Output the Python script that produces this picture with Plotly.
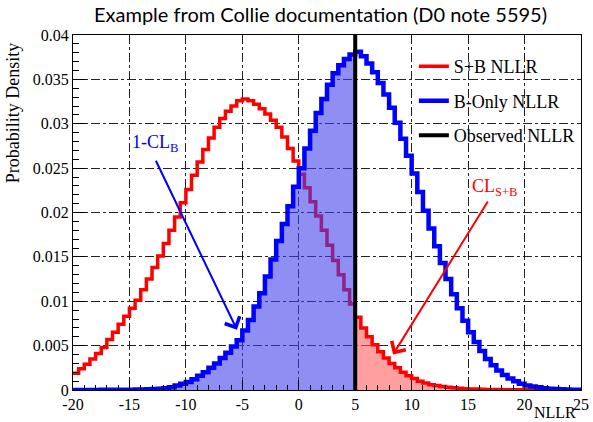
import numpy as np
import plotly.graph_objects as go

# ---- data (histograms, bin width 0.5 from -20 to 25) ----
bin_start = -20.0
bin_width = 0.5
n_bins = 90

sb_nllr = [
    0.0019, 0.0024, 0.0029, 0.0035, 0.0041, 0.0048, 0.0057, 0.0065, 0.0074, 0.0083,
    0.0092, 0.0101, 0.0113, 0.0125, 0.0138, 0.0151, 0.0165, 0.0180, 0.0195, 0.0211,
    0.0226, 0.0242, 0.0257, 0.0271, 0.0284, 0.0296, 0.0306, 0.0314, 0.0320, 0.0326,
    0.0328, 0.0326, 0.0322, 0.0317, 0.0311, 0.0304, 0.0296, 0.0285, 0.0272, 0.0258,
    0.0243, 0.0228, 0.0212, 0.0196, 0.0180, 0.0163, 0.0146, 0.0130, 0.0113, 0.0097,
    0.0082, 0.0070, 0.0060, 0.0051, 0.0043, 0.0036, 0.0030, 0.0025, 0.0020, 0.0016,
    0.0013, 0.0010, 0.0008, 0.0006, 0.0005, 0.0004, 0.0003, 0.00025, 0.0002, 0.00015,
    0.00012, 0.0001, 0.00008, 0.00007, 0.00006, 0.00005, 0.00004, 0.00004, 0.00003, 0.00003,
    0.00002, 0.00002, 0.00002, 0.00001, 0.00001, 0.00001, 0.00001, 0.00001, 0.00001, 0.00001,
]

b_nllr = [
    0.00001, 0.00001, 0.00001, 0.00001, 0.00001, 0.00002, 0.00002, 0.00002, 0.00003, 0.00003,
    0.00004, 0.00005, 0.00006, 0.00008, 0.0001, 0.00015, 0.0002, 0.0003, 0.0005, 0.0007,
    0.0009, 0.0012, 0.0016, 0.0020, 0.0025, 0.0030, 0.0036, 0.0042, 0.0049, 0.0056,
    0.0067, 0.0079, 0.0094, 0.0109, 0.0128, 0.0147, 0.0168, 0.0187, 0.0207, 0.0229,
    0.0250, 0.0272, 0.0292, 0.0312, 0.0328, 0.0344, 0.0357, 0.0366, 0.0373, 0.0378,
    0.0381, 0.0376, 0.0368, 0.0358, 0.0346, 0.0333, 0.0318, 0.0301, 0.0283, 0.0264,
    0.0244, 0.0223, 0.0202, 0.0182, 0.0162, 0.0143, 0.0125, 0.0108, 0.0092, 0.0078,
    0.0065, 0.0054, 0.0044, 0.0035, 0.0028, 0.0022, 0.0017, 0.0013, 0.0010, 0.0007,
    0.0005, 0.0004, 0.0003, 0.0002, 0.00015, 0.0001, 0.00008, 0.00006, 0.00004, 0.00003,
]

observed_nllr = 5.0

x_range = [-20, 25]
y_range = [0, 0.04]
x_tickvals = [-20, -15, -10, -5, 0, 5, 10, 15, 20, 25]
x_ticktext = ["-20", "-15", "-10", "-5", "0", "5", "10", "15", "20", "25"]
y_tickvals = [0, 0.005, 0.01, 0.015, 0.02, 0.025, 0.03, 0.035, 0.04]
y_ticktext = ["0", "0.005", "0.01", "0.015", "0.02", "0.025", "0.03", "0.035", "0.04"]

# ---- build step outlines ----
edges = bin_start + bin_width * np.arange(n_bins + 1)


def step_xy(vals, lo, hi):
    xs = list(edges[lo:hi + 1])
    ys = list(vals[lo:hi]) + [vals[hi - 1]]
    return xs, ys


obs_idx = int(round((observed_nllr - bin_start) / bin_width))

SERIF = "Liberation Serif"
fig = go.Figure()

# red fill (CL_S+B) right of observed
rx, ry = step_xy(sb_nllr, obs_idx, n_bins)
fig.add_trace(go.Scatter(x=rx, y=ry, mode="lines", line=dict(width=0, shape="hv"),
                         fill="tozeroy", fillcolor="rgba(255,95,95,0.6)",
                         showlegend=False, hoverinfo="skip", legendgroup="a"))
# red line
sx, sy = step_xy(sb_nllr, 0, n_bins)
fig.add_trace(go.Scatter(x=sx, y=sy, mode="lines", name="S+B NLLR",
                         line=dict(color="#ff0000", width=3.5, shape="hv"),
                         legendgroup="a"))
# blue fill (1-CL_B) left of observed
bx, by = step_xy(b_nllr, 0, obs_idx)
fig.add_trace(go.Scatter(x=bx, y=by, mode="lines", line=dict(width=0, shape="hv"),
                         fill="tozeroy", fillcolor="rgba(60,60,235,0.58)",
                         showlegend=False, hoverinfo="skip", legendgroup="b"))
# blue line
bbx, bby = step_xy(b_nllr, 0, n_bins)
fig.add_trace(go.Scatter(x=bbx, y=bby, mode="lines", name="B-Only NLLR",
                         line=dict(color="#0000ff", width=4.5, shape="hv"),
                         legendgroup="b"))
# observed
fig.add_trace(go.Scatter(x=[observed_nllr, observed_nllr], y=y_range, mode="lines",
                         name="Observed NLLR", line=dict(color="black", width=4),
                         legendgroup="c"))

axis_common = dict(
    showline=True, linecolor="black", linewidth=1, mirror=True,
    showgrid=True, gridcolor="#222", gridwidth=1, griddash="dashdot",
    zeroline=False, ticks="inside", tickcolor="black", automargin=False,
    tickfont=dict(family=SERIF, size=16, color="black"),
)

fig.update_xaxes(range=x_range, tickvals=x_tickvals, ticktext=x_ticktext, ticklen=10,
                 minor=dict(dtick=1, ticklen=5, ticks="inside", tickcolor="black", showgrid=False),
                 **axis_common)
fig.update_yaxes(range=y_range, tickvals=y_tickvals, ticktext=y_ticktext, ticklen=12,
                 minor=dict(dtick=0.001, ticklen=6, ticks="inside", tickcolor="black", showgrid=False),
                 **axis_common)

fig.update_layout(
    width=593, height=422,
    margin=dict(l=73, r=12, t=35, b=32, autoexpand=False),
    plot_bgcolor="white", paper_bgcolor="white",
    legend=dict(x=0.671, y=0.963, xanchor="left", yanchor="top",
                bgcolor="rgba(0,0,0,0)", font=dict(family=SERIF, size=18, color="black"),
                tracegroupgap=8, itemwidth=30),
    annotations=[
        dict(text="Example from Collie documentation (D0 note 5595)", xref="paper", yref="paper",
             x=0.488, y=1.058, xanchor="center", yanchor="middle", showarrow=False,
             font=dict(family="Lato", size=20, color="black")),
        dict(text="Probability Density", xref="paper", yref="paper", x=-0.118, y=0.78,
             textangle=-90, xanchor="center", yanchor="middle", showarrow=False,
             font=dict(family=SERIF, size=18, color="black")),
        dict(text="NLLR", xref="paper", yref="paper", x=0.995, y=-0.062, xanchor="right",
             yanchor="middle", showarrow=False, font=dict(family=SERIF, size=16, color="black")),
        dict(text="1-CL<sub>B</sub>", x=-12.7, y=0.0278, xanchor="center", yanchor="middle",
             showarrow=False, font=dict(family=SERIF, size=18, color="#0000ff")),
        dict(text="", x=-5.48, y=0.0068, ax=-12.72, ay=0.0260, axref="x", ayref="y",
             showarrow=True, arrowhead=4, arrowsize=1.6, arrowwidth=2, arrowcolor="#0000ff"),
        dict(text="CL<sub>S+B</sub>", x=17.4, y=0.0228, xanchor="center", yanchor="middle",
             showarrow=False, font=dict(family=SERIF, size=18, color="#ff0000")),
        dict(text="", x=8.35, y=0.0040, ax=16.83, ay=0.0214, axref="x", ayref="y",
             showarrow=True, arrowhead=4, arrowsize=1.6, arrowwidth=2, arrowcolor="#ff0000"),
    ],
)

fig.write_html("out.html")
